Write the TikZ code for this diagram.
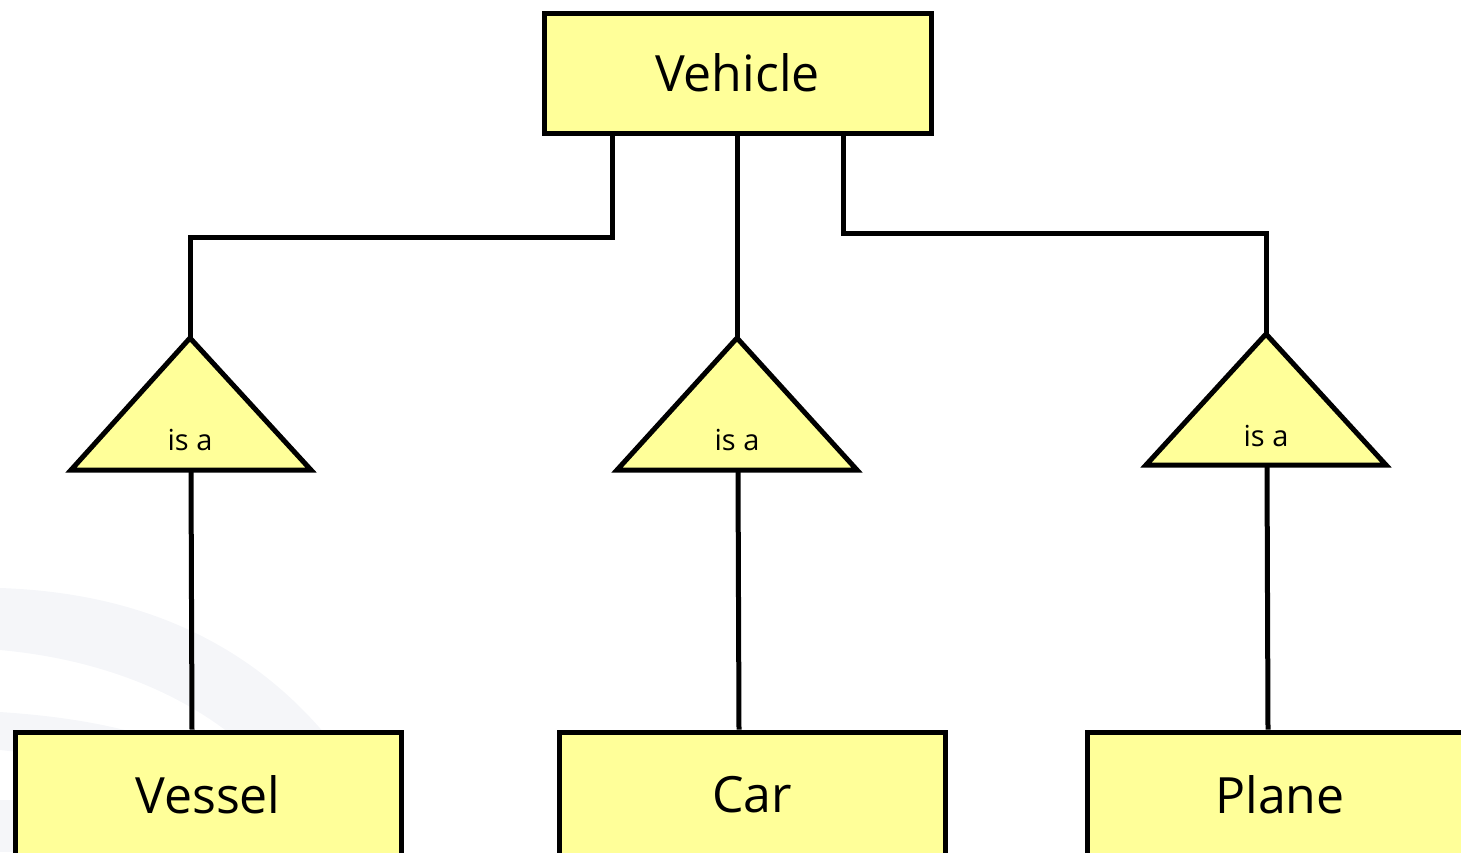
\documentclass[tikz,border=0pt]{standalone}
\usepackage{fontspec}
\setmainfont{Open Sans}
\begin{document}
\begin{tikzpicture}[x=0.5pt,y=-0.5pt,
  line width=2pt,
  entity/.style={draw=black, fill=boxyellow, line width=2.5pt, minimum width=193pt, minimum height=63pt, inner sep=0pt, font=\fontsize{25}{30}\selectfont},
  isashape/.style={draw=black, fill=boxyellow, line width=2.5pt, line join=miter},
  isalabel/.style={inner sep=0pt, font=\fontsize{14.5}{17}\selectfont},
  link/.style={draw=black, line width=2.5pt}]
\definecolor{boxyellow}{HTML}{FFFF99}
\definecolor{swoosh}{HTML}{F5F6F9}
\useasboundingbox (0,0) rectangle (1461,852);
\clip (0,0) rectangle (1461,852);
% faint background swooshes
\fill[swoosh] (0,588) .. controls (120,592) and (240,630) .. (330,740)
  -- (260,760) .. controls (200,700) and (110,660) .. (0,650) -- cycle;
\fill[swoosh] (0,712) .. controls (60,716) and (110,724) .. (160,740)
  -- (60,760) .. controls (40,755) and (20,752) .. (0,750) -- cycle;
\fill[swoosh] (0,800) -- (13,800) -- (13,852) -- (0,852) -- cycle;
% entity boxes
\node[entity, minimum width=193.5pt, minimum height=60pt] (vehicle) at (737.5,73) {Vehicle};
\node[entity] (vessel) at (208,795) {Vessel};
\node[entity] (car) at (752,795) {Car};
\node[entity] (plane) at (1280,795) {Plane};
% is-a triangles
\coordinate (a1) at (190,338);
\coordinate (b1) at (191,470);
\draw[isashape] (a1) -- (311,470) -- (71,470) -- cycle;
\node[isalabel] (isa1) at (190,440) {is a};
\coordinate (a2) at (737,338);
\coordinate (b2) at (738,470);
\draw[isashape] (a2) -- (857,470) -- (617,470) -- cycle;
\node[isalabel] (isa2) at (737,440) {is a};
\coordinate (a3) at (1266,334);
\coordinate (b3) at (1267,465);
\draw[isashape] (a3) -- (1386,465) -- (1146,465) -- cycle;
\node[isalabel] (isa3) at (1266,436) {is a};
% connectors
\draw[link] (vehicle.south -| 612,0) -- ++(0,102) -| (a1);
\draw[link] (vehicle.south -| 737,0) -- (a2);
\draw[link] (vehicle.south -| 843,0) -- ++(0,98) -| (a3);
\draw[link] (b1) -- (vessel.north -| 192,0);
\draw[link] (b2) -- (car.north -| 739,0);
\draw[link] (b3) -- (plane.north -| 1268,0);
\end{tikzpicture}
\end{document}
